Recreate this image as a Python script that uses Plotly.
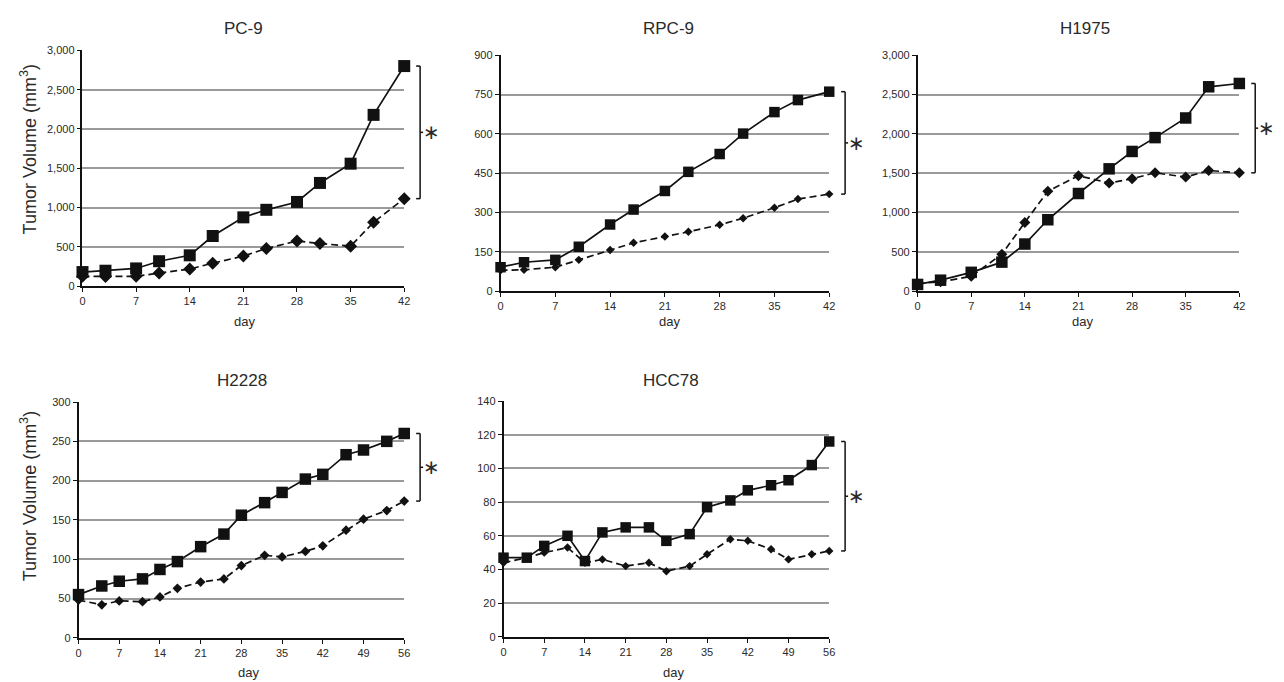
import plotly.graph_objects as go

# ---------------- data ----------------
pc9_days = [0, 3, 7, 10, 14, 17, 21, 24, 28, 31, 35, 38, 42]
pc9_square = [179, 196, 225, 317, 392, 638, 875, 971, 1071, 1313, 1558, 2179, 2800]
pc9_diamond = [125, 121, 125, 167, 217, 292, 383, 479, 575, 542, 508, 813, 1113]

rpc9_days = [0, 3, 7, 10, 14, 17, 21, 24, 28, 31, 35, 38, 42]
rpc9_square = [91, 110, 119, 169, 254, 311, 382, 455, 523, 601, 683, 729, 761]
rpc9_diamond = [79, 81, 91, 119, 157, 184, 208, 226, 253, 278, 318, 351, 370]

h1975_days = [0, 3, 7, 11, 14, 17, 21, 25, 28, 31, 35, 38, 42]
h1975_square = [84, 138, 238, 368, 598, 907, 1241, 1555, 1776, 1952, 2202, 2599, 2641]
h1975_diamond = [96, 117, 188, 468, 873, 1270, 1467, 1375, 1429, 1504, 1450, 1534, 1504]

h2228_days = [0, 4, 7, 11, 14, 17, 21, 25, 28, 32, 35, 39, 42, 46, 49, 53, 56]
h2228_square = [55, 66, 72, 75, 87, 97, 116, 132, 156, 172, 185, 202, 208, 233, 239, 250, 260]
h2228_diamond = [48, 42, 47, 46, 52, 63, 71, 75, 92, 105, 103, 110, 117, 137, 151, 162, 174]

hcc78_days = [0, 4, 7, 11, 14, 17, 21, 25, 28, 32, 35, 39, 42, 46, 49, 53, 56]
hcc78_square = [47, 47, 54, 60, 45, 62, 65, 65, 57, 61, 77, 81, 87, 90, 93, 102, 116]
hcc78_diamond = [44, 47, 50, 53, 44, 46, 42, 44, 39, 42, 49, 58, 57, 52, 46, 49, 51]

titles = ["PC-9", "RPC-9", "H1975", "H2228", "HCC78"]
y_max = [3000, 900, 3000, 300, 140]
y_step = [500, 150, 500, 50, 20]
x_max = [42, 42, 42, 56, 56]
x_step = 7
y_title = "Tumor Volume (mm<sup>3</sup>)"
x_title = "day"
sig_mark = "∗"

series = [
    (pc9_days, pc9_square, pc9_diamond),
    (rpc9_days, rpc9_square, rpc9_diamond),
    (h1975_days, h1975_square, h1975_diamond),
    (h2228_days, h2228_square, h2228_diamond),
    (hcc78_days, hcc78_square, hcc78_diamond),
]

# ---------------- layout / style ----------------
W, H = 1284, 682
FONT = "Liberation Sans, Arial, Helvetica, sans-serif"
INK = "#111111"
TXT = "#2a2a2a"

# plot boxes in pixels (left, top, right, bottom)
boxes = [
    (72, 37, 396, 277),
    (493, 42, 824, 282),
    (913, 42, 1237, 282),
    (68, 395, 396, 635),
    (496, 394, 824, 634),
]
title_pos = [(234, 15), (662, 15), (1082, 15), (233, 373), (665, 373)]
day_pos = [(235, 313), (663, 313), (1079, 313), (239, 670), (667, 670)]
ytitle_pos = [(18, 138), None, None, (18, 491), None]
sq_size = [12, 10.5, 11.5, 11.5, 10.5]
dia_size = [10, 6.5, 8.5, 7.5, 6.5]


def px_x(p):
    return p / W


def px_y(p):
    return 1 - p / H


fig = go.Figure()
annotations = []
shapes = []

for i, (days, sq, dia) in enumerate(series):
    n = "" if i == 0 else str(i + 1)
    xa, ya = "x" + n, "y" + n
    l, t, r, b = boxes[i]

    fig.add_trace(go.Scatter(
        x=days, y=dia, xaxis=xa, yaxis=ya, mode="lines+markers",
        line=dict(color=INK, width=1.7, dash="7px,4px"),
        marker=dict(symbol="diamond", size=dia_size[i], color=INK),
        cliponaxis=False, showlegend=False, name="diamond"))
    fig.add_trace(go.Scatter(
        x=days, y=sq, xaxis=xa, yaxis=ya, mode="lines+markers",
        line=dict(color=INK, width=1.7),
        marker=dict(symbol="square", size=sq_size[i], color=INK),
        cliponaxis=False, showlegend=False, name="square"))

    fig.layout["xaxis" + n] = dict(
        domain=[px_x(l), px_x(r)], anchor=ya, range=[0, x_max[i]],
        tickmode="linear", tick0=0, dtick=x_step,
        showgrid=False, zeroline=False, showline=True, linecolor=INK, linewidth=1.5,
        ticks="outside", ticklen=4, tickwidth=1.2, tickcolor=INK,
        tickfont=dict(family=FONT, size=11, color=TXT), layer="below traces",
        fixedrange=True)
    fig.layout["yaxis" + n] = dict(
        domain=[px_y(b), px_y(t)], anchor=xa, range=[0, y_max[i]],
        tickmode="linear", tick0=0, dtick=y_step[i], tickformat=",d",
        showgrid=True, gridcolor="#9a9a9a", gridwidth=1.6, zeroline=False,
        showline=True, linecolor=INK, linewidth=1.5,
        ticks="outside", ticklen=4, tickwidth=1.2, tickcolor=INK,
        tickfont=dict(family=FONT, size=11, color=TXT), layer="below traces",
        fixedrange=True)

    # texts
    annotations.append(dict(text=titles[i], x=px_x(title_pos[i][0]), y=px_y(title_pos[i][1]),
                            xref="paper", yref="paper", showarrow=False,
                            xanchor="center", yanchor="middle",
                            font=dict(family=FONT, size=17, color=TXT)))
    annotations.append(dict(text=x_title, x=px_x(day_pos[i][0]), y=px_y(day_pos[i][1]),
                            xref="paper", yref="paper", showarrow=False,
                            xanchor="center", yanchor="middle",
                            font=dict(family=FONT, size=13, color=TXT)))
    if ytitle_pos[i] is not None:
        annotations.append(dict(text=y_title, x=px_x(ytitle_pos[i][0]), y=px_y(ytitle_pos[i][1]),
                                xref="paper", yref="paper", showarrow=False, textangle=-90,
                                xanchor="center", yanchor="middle",
                                font=dict(family=FONT, size=18, color=TXT)))

    # significance bracket between the two final values
    def val_to_py(v, i=i, t=t, b=b):
        return b - v / y_max[i] * (b - t)

    top_px = val_to_py(sq[-1])
    bot_px = val_to_py(dia[-1])
    bx = r + 16
    line = dict(color=INK, width=1.5)
    shapes.append(dict(type="line", xref="paper", yref="paper", line=line,
                       x0=px_x(bx), x1=px_x(bx), y0=px_y(top_px), y1=px_y(bot_px)))
    shapes.append(dict(type="line", xref="paper", yref="paper", line=line,
                       x0=px_x(bx - 4), x1=px_x(bx), y0=px_y(top_px), y1=px_y(top_px)))
    shapes.append(dict(type="line", xref="paper", yref="paper", line=line,
                       x0=px_x(bx - 4), x1=px_x(bx), y0=px_y(bot_px), y1=px_y(bot_px)))
    mid = (top_px + bot_px) / 2
    shapes.append(dict(type="line", xref="paper", yref="paper", line=line,
                       x0=px_x(bx), x1=px_x(bx + 3), y0=px_y(mid), y1=px_y(mid)))
    annotations.append(dict(text=sig_mark, x=px_x(r + 27), y=px_y(mid),
                            xref="paper", yref="paper", showarrow=False,
                            xanchor="center", yanchor="middle",
                            font=dict(family="DejaVu Sans, sans-serif", size=20, color=TXT)))

fig.update_layout(
    width=W, height=H, margin=dict(l=0, r=0, t=0, b=0),
    paper_bgcolor="white", plot_bgcolor="white",
    annotations=annotations, shapes=shapes, showlegend=False,
    font=dict(family=FONT, color=TXT),
)

fig.write_html("out.html", config={"displayModeBar": False})
